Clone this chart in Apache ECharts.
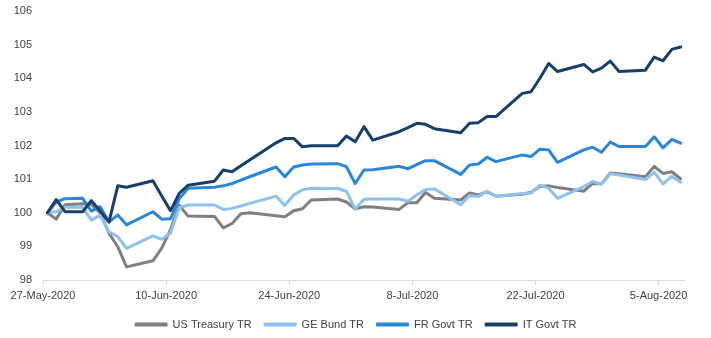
<!DOCTYPE html>
<html>
<head>
<meta charset="utf-8">
<script src="https://cdn.jsdelivr.net/npm/echarts@6/dist/echarts.min.js"></script>
<style>
html,body{margin:0;padding:0;background:#fff;}
#chart{width:711px;height:338px;}
</style>
</head>
<body>
<div id="chart"></div>
<script>
var dates = ['2020-05-27','2020-05-28','2020-05-29','2020-05-31','2020-06-01','2020-06-02','2020-06-03','2020-06-04','2020-06-05','2020-06-08','2020-06-09','2020-06-10','2020-06-11','2020-06-12','2020-06-15','2020-06-16','2020-06-17','2020-06-18','2020-06-19','2020-06-22','2020-06-23','2020-06-24','2020-06-25','2020-06-26','2020-06-29','2020-06-30','2020-07-01','2020-07-02','2020-07-03','2020-07-06','2020-07-07','2020-07-08','2020-07-09','2020-07-10','2020-07-13','2020-07-14','2020-07-15','2020-07-16','2020-07-17','2020-07-20','2020-07-21','2020-07-22','2020-07-23','2020-07-24','2020-07-27','2020-07-28','2020-07-29','2020-07-30','2020-07-31','2020-08-03','2020-08-04','2020-08-05','2020-08-06','2020-08-07'];

var usTreasury = [100.00,99.81,100.24,100.27,100.25,100.00,99.39,98.99,98.39,98.57,98.95,99.50,100.22,99.90,99.89,99.55,99.68,99.97,100.00,99.91,99.88,100.06,100.12,100.38,100.41,100.32,100.12,100.18,100.17,100.10,100.30,100.30,100.60,100.43,100.38,100.59,100.53,100.62,100.49,100.55,100.61,100.78,100.80,100.75,100.64,100.87,100.86,101.18,101.16,101.07,101.38,101.17,101.22,101.01];

var geBund = [100.00,100.03,100.16,100.16,99.78,99.93,99.43,99.29,98.94,99.31,99.21,99.40,100.15,100.23,100.23,100.10,100.13,100.20,100.28,100.49,100.22,100.53,100.68,100.73,100.72,100.64,100.11,100.40,100.41,100.41,100.34,100.53,100.69,100.71,100.24,100.51,100.48,100.64,100.49,100.57,100.59,100.82,100.73,100.43,100.78,100.93,100.85,101.16,101.12,100.99,101.20,100.86,101.08,100.91];

var frGovt = [100.00,100.32,100.42,100.43,100.05,100.18,99.73,99.93,99.64,100.03,99.81,99.82,100.42,100.73,100.76,100.80,100.87,100.97,101.07,101.36,101.07,101.36,101.42,101.45,101.46,101.37,100.87,101.27,101.28,101.38,101.31,101.43,101.55,101.55,101.14,101.42,101.45,101.65,101.52,101.72,101.67,101.89,101.87,101.50,101.87,101.95,101.80,102.10,101.97,101.97,102.26,101.93,102.18,102.07];

var itGovt = [100.00,100.39,100.03,100.03,100.36,100.05,99.72,100.80,100.76,100.95,100.50,100.06,100.58,100.82,100.94,101.27,101.22,101.40,101.57,102.08,102.21,102.21,101.96,101.99,101.99,102.28,102.11,102.56,102.16,102.41,102.53,102.66,102.63,102.50,102.38,102.66,102.68,102.86,102.86,103.55,103.60,104.00,104.44,104.20,104.41,104.19,104.30,104.51,104.20,104.24,104.63,104.52,104.86,104.93];

var seriesNames = ['US Treasury TR','GE Bund TR','FR Govt TR','IT Govt TR'];
var tickDates = ['2020-05-27','2020-06-10','2020-06-24','2020-07-08','2020-07-22','2020-08-05'];
var axisEndDate = '2020-08-08';
var yTicks = [98,99,100,101,102,103,104,105,106];

var DAY = 86400000;
var base = Date.parse(dates[0] + 'T00:00:00Z');
function dayOf(s){ return (Date.parse(s + 'T00:00:00Z') - base) / DAY; }
var months = ['Jan','Feb','Mar','Apr','May','Jun','Jul','Aug','Sep','Oct','Nov','Dec'];
function fmt(v){
  var d = new Date(base + Math.round(v) * DAY);
  return d.getUTCDate() + '-' + months[d.getUTCMonth()] + '-' + d.getUTCFullYear();
}
function pairs(vals){
  return vals.map(function(v, i){ return [dayOf(dates[i]) + 0.5, v]; });
}
var tickVals = tickDates.map(dayOf);

var FONT = '"Liberation Sans", Arial, sans-serif';
var colors = ['#7f7f7f','#8fc1ee','#2a86d9','#16406b'];
var allData = [usTreasury, geBund, frGovt, itGovt];

var chart = echarts.init(document.getElementById('chart'), null, {renderer:'canvas'});
chart.setOption({
  animation: false,
  backgroundColor: '#ffffff',
  textStyle: { fontFamily: FONT },
  grid: { left: 43, right: 26, top: 11, bottom: 58, containLabel: false },
  legend: {
    bottom: 3,
    left: 'center',
    icon: 'roundRect',
    itemWidth: 33,
    itemHeight: 4,
    itemGap: 12,
    textStyle: { fontSize: 11, color: '#404040', fontFamily: FONT },
    data: seriesNames
  },
  xAxis: {
    type: 'value',
    min: 0,
    max: dayOf(axisEndDate),
    interval: 14,
    axisLine: { show: true, lineStyle: { color: '#d9d9d9', width: 1 } },
    axisTick: { show: true, length: 5, lineStyle: { color: '#d9d9d9' }, customValues: tickVals },
    axisLabel: { fontSize: 11, color: '#404040', margin: 10, fontFamily: FONT, customValues: tickVals, formatter: fmt },
    splitLine: { show: false }
  },
  yAxis: {
    type: 'value',
    min: yTicks[0],
    max: yTicks[yTicks.length - 1],
    interval: 1,
    axisLine: { show: false },
    axisTick: { show: false },
    axisLabel: { fontSize: 11, color: '#404040', margin: 11, fontFamily: FONT },
    splitLine: { show: false }
  },
  series: seriesNames.map(function(n, i){
    return {
      name: n,
      type: 'line',
      data: pairs(allData[i]),
      showSymbol: false,
      symbol: 'none',
      color: colors[i],
      lineStyle: { width: 3, color: colors[i], join: 'round', cap: 'round' }
    };
  })
});
</script>
</body>
</html>
